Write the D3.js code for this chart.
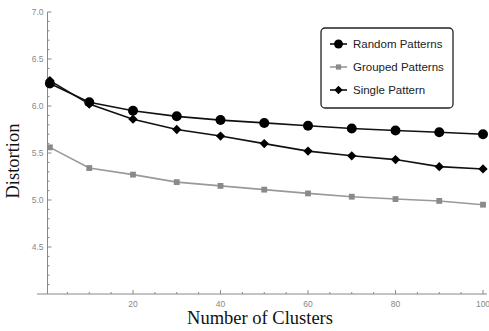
<!DOCTYPE html>
<html>
<head>
<meta charset="utf-8">
<script src="https://d3js.org/d3.v7.min.js"></script>
<style>
  body { margin: 0; background: #fff; }
  .axis-title { font: 18.5px "Liberation Serif", "Times New Roman", serif; fill: #111; }
  .legend text { font: 11.5px "Liberation Sans", Arial, sans-serif; fill: #222; }
</style>
</head>
<body>
<svg id="chart" width="489" height="331"></svg>
<script>
// cluster counts on the x axis
var clusters = [1, 10, 20, 30, 40, 50, 60, 70, 80, 90, 100];
var randomPatterns  = [6.24, 6.04, 5.95, 5.89, 5.85, 5.82, 5.79, 5.76, 5.74, 5.72, 5.70];
var groupedPatterns = [5.56, 5.34, 5.27, 5.19, 5.15, 5.11, 5.07, 5.035, 5.01, 4.99, 4.95];
var singlePattern   = [6.27, 6.02, 5.86, 5.75, 5.68, 5.60, 5.52, 5.47, 5.43, 5.355, 5.33];
var seriesNames = ["Random Patterns", "Grouped Patterns", "Single Pattern"];
var xTickLabels = [20, 40, 60, 80, 100];
var yTickLabels = [4.5, 5.0, 5.5, 6.0, 6.5, 7.0];

var svg = d3.select("#chart");

var x = d3.scaleLinear().domain([0, 100]).range([45.5, 483]);
var y = d3.scaleLinear().domain([4, 7]).range([294, 12]);

var series = [
  { name: seriesNames[0], values: randomPatterns,  stroke: "#111", fill: "#000", shape: d3.symbolCircle,  size: 78 },
  { name: seriesNames[1], values: groupedPatterns, stroke: "#999", fill: "#8a8a8a", shape: d3.symbolSquare, size: 34 },
  { name: seriesNames[2], values: singlePattern,   stroke: "#111", fill: "#000", shape: d3.symbolDiamond2, size: 55 }
];

// axes
var xAxisY = y(4);
var yAxisX = 47.5;

svg.append("line")
  .attr("x1", 37).attr("x2", 487)
  .attr("y1", xAxisY).attr("y2", xAxisY)
  .attr("stroke", "#888").attr("stroke-width", 1);
svg.append("line")
  .attr("x1", yAxisX).attr("x2", yAxisX)
  .attr("y1", y(7)).attr("y2", xAxisY)
  .attr("stroke", "#888").attr("stroke-width", 1);

// x ticks
d3.range(5, 101, 5).forEach(function(v) {
  var major = v % 20 === 0;
  svg.append("line")
    .attr("x1", x(v)).attr("x2", x(v))
    .attr("y1", xAxisY).attr("y2", xAxisY - (major ? 4 : 2))
    .attr("stroke", "#888");
});
svg.selectAll(".xlab").data(xTickLabels).enter().append("text")
  .attr("x", function(d) { return x(d); })
  .attr("y", xAxisY + 13)
  .attr("text-anchor", "middle")
  .style("font", "8.5px 'Liberation Sans', Arial, sans-serif")
  .style("fill", "#888")
  .text(function(d) { return d; });

// y ticks
d3.range(41, 71).forEach(function(k) {
  var v = k / 10;
  var major = k % 5 === 0;
  svg.append("line")
    .attr("x1", yAxisX).attr("x2", yAxisX + (major ? 4 : 2))
    .attr("y1", y(v)).attr("y2", y(v))
    .attr("stroke", "#888");
});
svg.selectAll(".ylab").data(yTickLabels).enter().append("text")
  .attr("x", yAxisX - 4)
  .attr("y", function(d) { return y(d) + 3; })
  .attr("text-anchor", "end")
  .style("font", "8.5px 'Liberation Sans', Arial, sans-serif")
  .style("fill", "#888")
  .text(function(d) { return d.toFixed(1); });

// axis titles
svg.append("text")
  .attr("class", "axis-title")
  .attr("x", 260).attr("y", 324)
  .attr("text-anchor", "middle")
  .text("Number of Clusters");
svg.append("text")
  .attr("class", "axis-title")
  .attr("transform", "translate(19,161) rotate(-90)")
  .attr("text-anchor", "middle")
  .text("Distortion");

// lines and markers
var line = d3.line()
  .x(function(d, i) { return x(clusters[i]); })
  .y(function(d) { return y(d); });

series.forEach(function(s) {
  svg.append("path")
    .attr("d", line(s.values))
    .attr("fill", "none")
    .attr("stroke", s.stroke)
    .attr("stroke-width", 1.6);
  svg.selectAll(null).data(s.values).enter().append("path")
    .attr("d", d3.symbol().type(s.shape).size(s.size))
    .attr("transform", function(d, i) { return "translate(" + x(clusters[i]) + "," + y(d) + ")"; })
    .attr("fill", s.fill);
});

// legend
var legend = svg.append("g").attr("class", "legend");
legend.append("rect")
  .attr("x", 321).attr("y", 28)
  .attr("width", 132).attr("height", 80)
  .attr("rx", 4)
  .attr("fill", "#fff")
  .attr("stroke", "#222")
  .attr("stroke-width", 1.3);

var items = legend.selectAll(".item").data(series).enter().append("g")
  .attr("transform", function(d, i) { return "translate(0," + (44 + i * 23) + ")"; });
items.append("line")
  .attr("x1", 330).attr("x2", 347)
  .attr("stroke", function(d) { return d.stroke; })
  .attr("stroke-width", 1.6);
items.append("path")
  .attr("d", function(d) { return d3.symbol().type(d.shape).size(d.size * 0.8)(); })
  .attr("transform", "translate(338.5,0)")
  .attr("fill", function(d) { return d.fill; });
items.append("text")
  .attr("x", 353).attr("y", 4)
  .text(function(d) { return d.name; });
</script>
</body>
</html>
